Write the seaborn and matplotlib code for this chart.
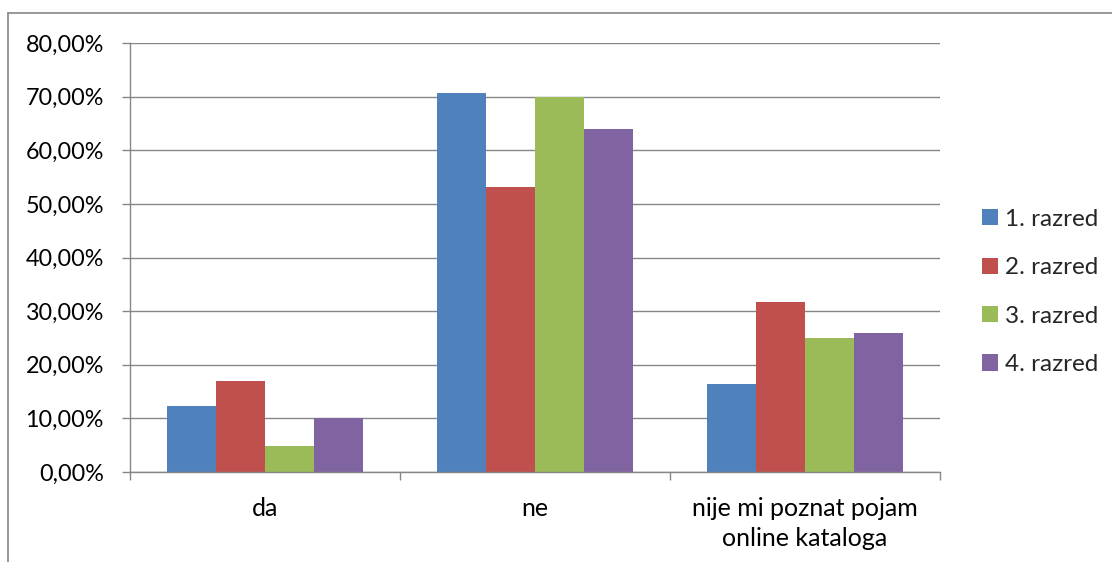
import matplotlib
matplotlib.use("Agg")
import matplotlib.pyplot as plt
import seaborn as sns
import pandas as pd
from matplotlib.lines import Line2D
from matplotlib.ticker import FuncFormatter, FixedLocator

categories = ["da", "ne", "nije mi poznat pojam\nonline kataloga"]
series = ["1. razred", "2. razred", "3. razred", "4. razred"]
razred1 = [12.4, 70.7, 16.5]
razred2 = [17.0, 53.2, 31.7]
razred3 = [4.8, 70.0, 25.0]
razred4 = [10.0, 64.0, 26.0]
colors = ["#4F81BD", "#C0504D", "#9BBB59", "#8064A2"]
yticks = [0, 10, 20, 30, 40, 50, 60, 70, 80]

rows = []
for s, vals in zip(series, [razred1, razred2, razred3, razred4]):
    for c, v in zip(categories, vals):
        rows.append({"kategorija": c, "razred": s, "vrijednost": v})
df = pd.DataFrame(rows)

sns.set_theme(style="white")
plt.rcParams["font.family"] = ["Lato", "DejaVu Sans"]
FS_Y = 16.8
FS_X = 18.0
FS_L = 17.5
GRAY = "#868686"

fig = plt.figure(figsize=(11.12, 5.62), dpi=100)
ax = fig.add_axes([130 / 1112, 1 - 472 / 562, 810 / 1112, 429 / 562])

sns.barplot(data=df, x="kategorija", y="vrijednost", hue="razred",
            order=categories, hue_order=series, palette=colors,
            width=4 / 5.5, dodge=True, saturation=1, ax=ax,
            edgecolor="none", linewidth=0, legend=False)

ax.set_xlim(-0.5, 2.5)
ax.set_ylim(0, 80)
ax.set_yticks(yticks)
ax.yaxis.set_major_formatter(FuncFormatter(lambda v, p: f"{v:.2f}".replace(".", ",") + "%"))
ax.grid(axis="y", color=GRAY, linewidth=1.0, zorder=0)
ax.set_axisbelow(True)
for s in ["top", "right"]:
    ax.spines[s].set_visible(False)
for s in ["left", "bottom"]:
    ax.spines[s].set_color(GRAY)
    ax.spines[s].set_linewidth(1.0)

ax.tick_params(axis="y", which="major", length=5.8, width=1.0, color=GRAY,
               direction="out", pad=13, labelsize=FS_Y, labelcolor="black", left=True)
ax.xaxis.set_minor_locator(FixedLocator([-0.5, 0.5, 1.5, 2.5]))
ax.tick_params(axis="x", which="minor", length=5.8, width=1.0, color=GRAY,
               direction="out", bottom=True)
ax.tick_params(axis="x", which="major", length=0, pad=18, labelsize=FS_X, labelcolor="black")
for lbl in ax.get_xticklabels():
    lbl.set_linespacing(1.38)
ax.set_xlabel("")
ax.set_ylabel("")

handles = [plt.Rectangle((0, 0), 1, 1, facecolor=c, edgecolor="none") for c in colors]
fig.legend(handles, series, loc="center left", bbox_to_anchor=(982 / 1112, 1 - 292 / 562),
           frameon=False, fontsize=FS_L, handlelength=0.66, handleheight=0.66,
           handletextpad=0.3, labelspacing=1.13, borderpad=0, borderaxespad=0)

fig.add_artist(Line2D([8 / 1112, 8 / 1112], [0, 1 - 13 / 562], transform=fig.transFigure,
                      color=GRAY, linewidth=1.2))
fig.add_artist(Line2D([8 / 1112, 1], [1 - 13 / 562, 1 - 13 / 562], transform=fig.transFigure,
                      color=GRAY, linewidth=1.2))

fig.savefig("out.png", dpi=100, facecolor="white")
